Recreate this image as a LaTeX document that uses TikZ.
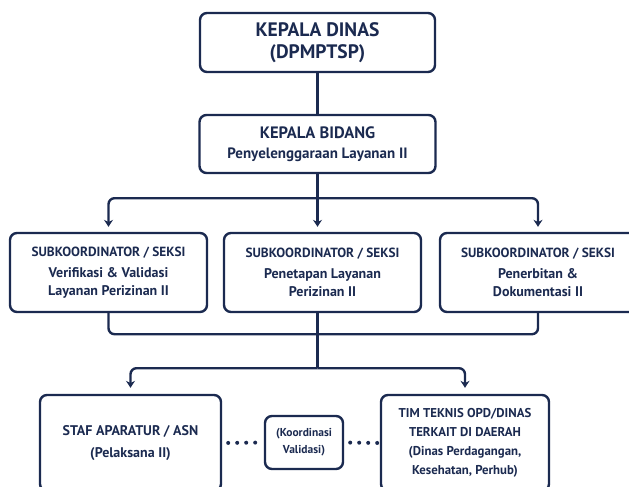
\documentclass[tikz,border=0pt]{standalone}
\usepackage{fontspec}
\setmainfont{PT Sans}
\usetikzlibrary{positioning, arrows.meta, calc}
\definecolor{navy}{RGB}{27,42,80}

\begin{document}
\begin{tikzpicture}[x=1pt, y=-1pt, color=navy, line width=2.4pt,
  font=\bfseries\fontsize{14}{18}\selectfont,
  >={Stealth[length=7pt, width=9pt]},
  orgbox/.style={draw, rounded corners=7pt, align=center, inner sep=2pt},
  link/.style={rounded corners=6pt},
  dots/.style={line cap=round, dash pattern=on 0pt off 9pt, line width=4pt, yshift=3pt}]
  \useasboundingbox (0,0) rectangle (629,487);
  \clip (0,0) rectangle (629,487);
  % top of the chart
  \node[orgbox, minimum width=235pt, minimum height=59pt, font=\bfseries\fontsize{19.5}{22}\selectfont] (kd) at (317.5,42.5) {KEPALA DINAS\\(DPMPTSP)};
  \node[orgbox, minimum width=236pt, minimum height=58pt, font=\bfseries\fontsize{15}{20}\selectfont] (kb) at (317.5,144) {{\fontsize{16.5}{19}\selectfont KEPALA BIDANG}\\Penyelenggaraan Layanan II};
  % subkoordinator row
  \node[orgbox, minimum width=197pt, minimum height=79pt] (sa) at (108.5,272.5) {{\fontsize{13.3}{15}\selectfont SUBKOORDINATOR / SEKSI}\\[3pt]Verifikasi \& Validasi\\Layanan Perizinan II};
  \node[orgbox, minimum width=197pt, minimum height=79pt] (sb) at (322.5,272.5) {{\fontsize{13.3}{15}\selectfont SUBKOORDINATOR / SEKSI}\\[3pt]Penetapan Layanan\\Perizinan II};
  \node[orgbox, minimum width=196pt, minimum height=79pt] (sc) at (538,272.5) {{\fontsize{13.3}{15}\selectfont SUBKOORDINATOR / SEKSI}\\[3pt]Penerbitan \&\\Dokumentasi II};
  % pelaksana row
  \node[orgbox, minimum width=181pt, minimum height=96pt, font=\bfseries\fontsize{14}{22}\selectfont] (sd) at (130.5,443) {STAF APARATUR / ASN\\(Pelaksana II)};
  \node[orgbox, minimum width=78pt, minimum height=53pt, font=\bfseries\fontsize{11.5}{17}\selectfont] (ek) at (304,442.5) {(Koordinasi\\Validasi)};
  \node[orgbox, minimum width=168pt, minimum height=96pt, font=\bfseries\fontsize{12.8}{19}\selectfont] (tf) at (465,443) {TIM TEKNIS OPD/DINAS\\TERKAIT DI DAERAH\\(Dinas Perdagangan,\\Kesehatan, Perhub)};
  % connectors
  \draw (kd) -- (kb);
  \coordinate (j1) at ($(kb.south)+(0,24)$);
  \draw (kb.south) -- (j1);
  \draw[->, link, shorten >=5pt] (j1) -| (sa.north);
  \draw[->, shorten >=5pt] (j1) -- (j1 |- sb.north);
  \draw[->, link, shorten >=5pt] (j1) -| (sc.north);
  \coordinate (j2) at ($(sb.south -| j1)+(0,21)$);
  \draw[link] (sa.south) |- (j2);
  \draw[link] (sc.south) |- (j2);
  \coordinate (j3) at ($(j2)+(0,34)$);
  \draw (sb.south -| j1) -- (j3);
  \draw[->, link, shorten >=6pt] (j3) -| (sd.north);
  \draw[->, link, shorten >=6pt] (j3) -| (tf.north);
  \draw[dots, shorten <=6pt, shorten >=6pt] (sd.east) -- (ek.west);
  \draw[dots, shorten <=6pt, shorten >=1pt] (ek.east) -- (tf.west);
\end{tikzpicture}
\end{document}
